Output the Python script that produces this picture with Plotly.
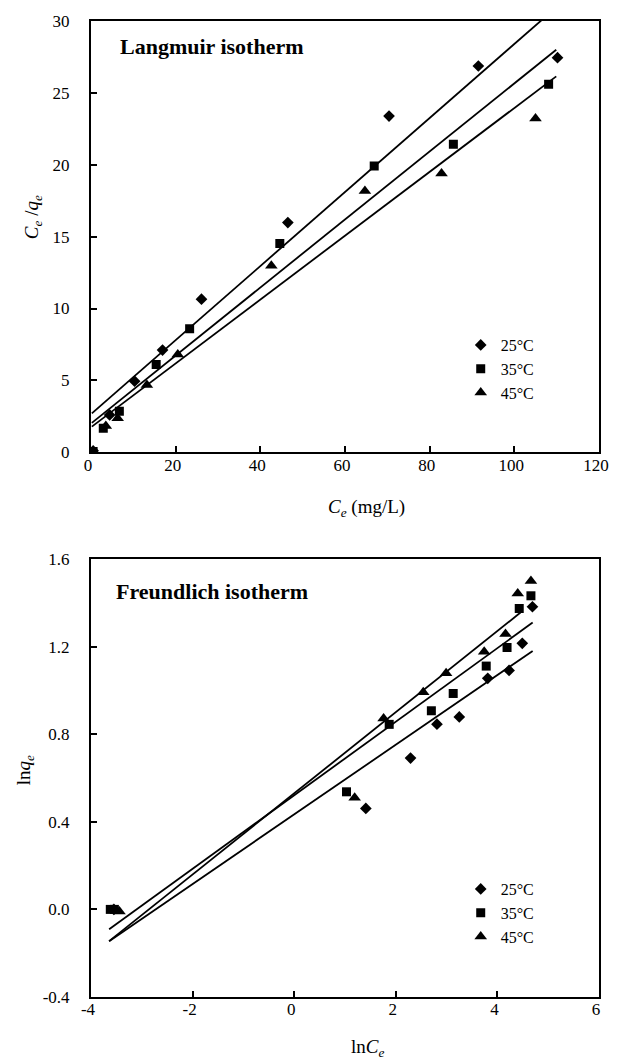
import plotly.graph_objects as go

FONT = "'Liberation Serif', 'Times New Roman', Times, serif"

# ---------------- Langmuir data ----------------
temps = ["25°C", "35°C", "45°C"]
symbols = ["diamond", "square", "triangle-up"]
msizes = [9, 9, 11]

lang_x_25 = [0.5, 4.4, 10.3, 16.9, 26.1, 46.5, 70.4, 91.5, 110.2]
lang_y_25 = [0.1, 2.6, 4.95, 7.11, 10.65, 15.98, 23.39, 26.87, 27.45]
lang_x_35 = [0.5, 2.9, 6.7, 15.4, 23.3, 44.6, 66.9, 85.6, 108.1]
lang_y_35 = [0.05, 1.67, 2.85, 6.1, 8.59, 14.52, 19.92, 21.42, 25.6]
lang_x_45 = [0.5, 3.5, 6.3, 13.2, 20.5, 42.6, 64.7, 82.8, 105.0]
lang_y_45 = [0.0, 1.83, 2.36, 4.68, 6.8, 12.97, 18.18, 19.39, 23.21]

# linear fits as drawn (slope, intercept, x-start, x-end)
lang_fit_slope = [0.2574, 0.2366, 0.2221]
lang_fit_intercept = [2.66, 2.0, 1.74]
lang_fit_xstart = [0.2, 0.2, 0.2]
lang_fit_xend = [110.2, 109.9, 109.9]

# ---------------- Freundlich data ----------------
fr_x_25 = [-3.55, 1.41, 2.29, 2.81, 3.25, 3.81, 4.23, 4.49, 4.69]
fr_y_25 = [0.0, 0.461, 0.691, 0.846, 0.879, 1.055, 1.091, 1.215, 1.382]
fr_x_35 = [-3.62, -3.54, 1.03, 1.87, 2.70, 3.13, 3.78, 4.19, 4.43, 4.66]
fr_y_35 = [0.0, 0.0, 0.537, 0.845, 0.907, 0.986, 1.111, 1.196, 1.374, 1.432]
fr_x_45 = [-3.44, 1.19, 1.76, 2.54, 2.99, 3.74, 4.16, 4.40, 4.66]
fr_y_45 = [-0.01, 0.510, 0.872, 0.991, 1.078, 1.176, 1.257, 1.443, 1.500]

fr_fit_slope = [0.159, 0.168, 0.1853]
fr_fit_intercept = [0.434, 0.521, 0.530]
fr_fit_xstart = [-3.643, -3.643, -3.643]
fr_fit_xend = [4.694, 4.694, 4.455]

# tick labels of the Freundlich plot (hyphen minus as in the original)
fr_xtick_vals = [-4, -2, 0, 2, 4, 6]
fr_xtick_text = ["-4", "-2", "0", "2", "4", "6"]
fr_ytick_vals = [-0.4, 0.0, 0.4, 0.8, 1.2, 1.6]
fr_ytick_text = ["-0.4", "0.0", "0.4", "0.8", "1.2", "1.6"]

lang_xs = [lang_x_25, lang_x_35, lang_x_45]
lang_ys = [lang_y_25, lang_y_35, lang_y_45]
fr_xs = [fr_x_25, fr_x_35, fr_x_45]
fr_ys = [fr_y_25, fr_y_35, fr_y_45]

fig = go.Figure()

for k in range(3):
    xs = [lang_fit_xstart[k], lang_fit_xend[k]]
    ys = [lang_fit_intercept[k] + lang_fit_slope[k] * v for v in xs]
    fig.add_trace(go.Scatter(x=xs, y=ys, mode="lines", line=dict(color="black", width=1.8),
                             showlegend=False, hoverinfo="skip", xaxis="x", yaxis="y"))
for k in range(3):
    fig.add_trace(go.Scatter(x=lang_xs[k], y=lang_ys[k], mode="markers", name=temps[k],
                             marker=dict(symbol=symbols[k], size=msizes[k], color="black"),
                             xaxis="x", yaxis="y", legend="legend"))

for k in range(3):
    xs = [fr_fit_xstart[k], fr_fit_xend[k]]
    ys = [fr_fit_intercept[k] + fr_fit_slope[k] * v for v in xs]
    fig.add_trace(go.Scatter(x=xs, y=ys, mode="lines", line=dict(color="black", width=1.8),
                             showlegend=False, hoverinfo="skip", xaxis="x2", yaxis="y2"))
for k in range(3):
    fig.add_trace(go.Scatter(x=fr_xs[k], y=fr_ys[k], mode="markers", name=temps[k],
                             marker=dict(symbol=symbols[k], size=msizes[k], color="black"),
                             xaxis="x2", yaxis="y2", legend="legend2"))

L, R, T, B = 91, 12, 21, 65
W, H = 621, 1062
plot_h = H - T - B
top_dom = [(997 - 452.3) / plot_h, 1.0]
bot_dom = [0.0, (997 - 559) / plot_h]

axis_common = dict(showline=True, linecolor="black", linewidth=2, mirror=True,
                   ticks="inside", ticklen=6, tickwidth=2, tickcolor="black",
                   showgrid=False, zeroline=False,
                   tickfont=dict(family=FONT, size=17, color="black"))

fig.update_layout(
    width=W, height=H,
    margin=dict(l=L, r=R, t=T, b=B),
    paper_bgcolor="white", plot_bgcolor="white",
    font=dict(family=FONT, color="black"),
    xaxis=dict(range=[0, 120], dtick=20, tick0=0, domain=[0, 1], anchor="y",
               ticklabelstandoff=-4, ticklabelshift=-3, ticklabeloverflow="allow", **axis_common),
    yaxis=dict(range=[0, 30], dtick=5, tick0=0, domain=top_dom, anchor="x",
               ticklabelstandoff=16, **axis_common),
    xaxis2=dict(range=[-4, 6], tickvals=fr_xtick_vals, ticktext=fr_xtick_text, domain=[0, 1], anchor="y2",
                ticklabelstandoff=-4, ticklabelshift=-3, ticklabeloverflow="allow", **axis_common),
    yaxis2=dict(range=[-0.4, 1.6], tickvals=fr_ytick_vals, ticktext=fr_ytick_text, domain=bot_dom,
                anchor="x2", ticklabelstandoff=16, **axis_common),
    legend=dict(x=(468 - L) / (W - L - R), y=(997 - 328) / plot_h, xanchor="left", yanchor="top",
                font=dict(family=FONT, size=16, color="black"), bgcolor="rgba(0,0,0,0)",
                tracegroupgap=0),
    legend2=dict(x=(468 - L) / (W - L - R), y=(997 - 872) / plot_h, xanchor="left", yanchor="top",
                 font=dict(family=FONT, size=16, color="black"), bgcolor="rgba(0,0,0,0)",
                 tracegroupgap=0),
    showlegend=True,
)

pw = W - L - R
def px_x(p):
    return (p - L) / pw
def px_y(p):
    return (997 - p) / plot_h

annots = [
    dict(text="<b>Langmuir isotherm</b>", x=px_x(119), y=px_y(46.5), xanchor="left", yanchor="middle",
         font=dict(family=FONT, size=22, color="black")),
    dict(text="<b>Freundlich isotherm</b>", x=px_x(114), y=px_y(591.5), xanchor="left", yanchor="middle",
         font=dict(family=FONT, size=22, color="black")),
    dict(text="<i>C</i><sub><i>e</i></sub> /<i>q</i><sub><i>e</i></sub>", x=px_x(32), y=px_y(217),
         xanchor="center", yanchor="middle", textangle=-90, font=dict(family=FONT, size=19, color="black")),
    dict(text="<i>C</i><sub><i>e</i></sub> (mg/L)", x=px_x(372), y=px_y(508),
         xanchor="center", yanchor="middle", font=dict(family=FONT, size=19, color="black")),
    dict(text="ln<i>q</i><sub><i>e</i></sub>", x=px_x(24), y=px_y(770),
         xanchor="center", yanchor="middle", textangle=-90, font=dict(family=FONT, size=19, color="black")),
    dict(text="ln<i>C</i><sub><i>e</i></sub>", x=px_x(373), y=px_y(1048),
         xanchor="center", yanchor="middle", font=dict(family=FONT, size=19, color="black")),
]
for a in annots:
    a.update(xref="paper", yref="paper", showarrow=False)
fig.update_layout(annotations=annots)

fig.write_html("out.html",
               config={"displayModeBar": False},
               post_script="document.body.style.margin='0';document.body.style.overflow='hidden';")
